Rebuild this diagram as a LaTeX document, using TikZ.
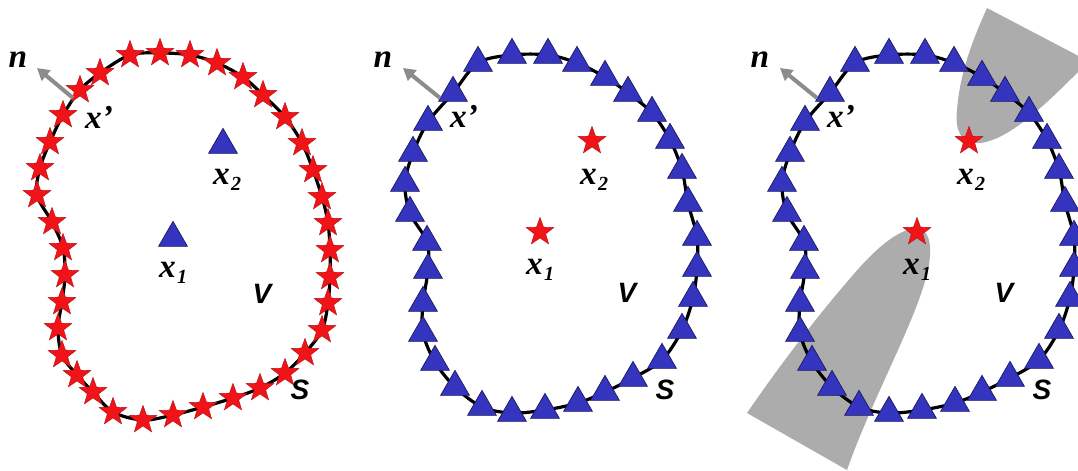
\documentclass[tikz,border=0pt]{standalone}
\usepackage{fontspec}
\setmainfont{Liberation Serif}
\newfontfamily\sansV{Liberation Sans}
\usetikzlibrary{shapes.geometric,arrows.meta}

\definecolor{triblue}{RGB}{52,52,190}
\definecolor{tribord}{RGB}{25,25,95}
\definecolor{starred}{RGB}{240,20,25}
\definecolor{shade}{RGB}{172,172,172}
\definecolor{arrowgrey}{RGB}{140,140,140}

\newcommand\lowsub[1]{\kern1pt\raisebox{-5pt}{\fontsize{15}{15}\selectfont #1}}

\tikzset{
 tri/.style={regular polygon, regular polygon sides=3, fill=triblue, draw=tribord, line width=0.5pt, minimum size=25pt, inner sep=0pt},
 starmark/.style={star, star points=5, star point ratio=2.45, fill=starred, draw=starred!75!black, line width=0.3pt, minimum size=22pt, inner sep=0pt},
 boundary/.style={line width=2.4pt, black},
 normalarrow/.style={arrowgrey, line width=3pt, -{Triangle[length=9pt,width=10pt]}},
 xlabel/.style={font=\fontsize{25}{25}\selectfont\bfseries\itshape, inner sep=0pt},
 vlabel/.style={font=\fontsize{21}{21}\selectfont\sansV\bfseries\itshape, inner sep=0pt},
 shadearea/.style={fill=shade, draw=none},
}

\newcommand\ringpanel{%
  \draw[boundary] plot[smooth cycle, tension=0.55] coordinates {(478,63) (512,55) (548,55) (577,63) (605,77) (628,93) (652,113) (670,140) (682,170) (688,203) (697,237) (697,268) (693,298) (682,330) (662,360) (633,378) (605,392) (578,403) (545,410) (512,413) (482,407) (455,387) (435,362) (423,333) (423,303) (428,270) (427,242) (410,213) (405,183) (413,153) (428,122) (453,93)};
  \foreach \p [count=\i] in {(478,63),(512,55),(548,55),(577,63),(605,77),(628,93),(652,113),(670,140),(682,170),(688,203),(697,237),(697,268),(693,298),(682,330),(662,360),(633,378),(605,392),(578,403),(545,410),(512,413),(482,407),(455,387),(435,362),(423,333),(423,303),(428,270),(427,242),(410,213),(405,183),(413,153),(428,122),(453,93)}
    \node[tri] (t\i) at \p {};
  \coordinate (n0) at (440,98);
  \coordinate (n1) at (403,68);
  \draw[normalarrow] (n0) -- (n1);
  \node[xlabel] (nl) at (383,60) {n};
  \node[xlabel] (xp) at (464,116) {x’};
  \node[starmark] (s2) at (592,141) {};
  \node[xlabel] (x2) at (594,180) {x\lowsub{2}};
  \node[starmark] (s1) at (540,232) {};
  \node[xlabel] (x1) at (540,270) {x\lowsub{1}};
  \node[vlabel] (V) at (627,293) {V};
  \node[vlabel] (S) at (665,390) {S};
}

\begin{document}
\begin{tikzpicture}[x=0.75pt, y=-0.75pt]
\useasboundingbox (0,0) rectangle (1078,471);
\clip (0,0) rectangle (1078,471);
\fill[white] (0,0) rectangle (1078,471);

% ---------- panel 1 ----------
\begin{scope}[name prefix=a-]
  \draw[boundary] plot[smooth cycle, tension=0.55] coordinates {(130,55) (160,53) (190,55) (217,63) (243,77) (263,95) (285,117) (302,143) (313,170) (322,197) (328,223) (330,250) (330,277) (328,303) (322,330) (305,353) (285,373) (260,388) (233,398) (203,407) (173,415) (143,420) (113,412) (93,392) (77,375) (62,355) (58,328) (62,302) (65,275) (63,248) (52,222) (37,195) (40,168) (50,142) (63,115) (80,90) (100,73)};
  \foreach \p [count=\i] in {(130,55),(160,53),(190,55),(217,63),(243,77),(263,95),(285,117),(302,143),(313,170),(322,197),(328,223),(330,250),(330,277),(328,303),(322,330),(305,353),(285,373),(260,388),(233,398),(203,407),(173,415),(143,420),(113,412),(93,392),(77,375),(62,355),(58,328),(62,302),(65,275),(63,248),(52,222),(37,195),(40,168),(50,142),(63,115),(80,90),(100,73)}
    \node[starmark] (s\i) at \p {};
  \coordinate (n0) at (73,98);
  \coordinate (n1) at (37,68);
  \draw[normalarrow] (n0) -- (n1);
  \node[xlabel] (nl) at (18,60) {n};
  \node[xlabel] (xp) at (99,117) {x’};
  \node[tri] (t2) at (223,145) {};
  \node[xlabel] (x2) at (227,180) {x\lowsub{2}};
  \node[tri] (t1) at (173,238) {};
  \node[xlabel] (x1) at (173,273) {x\lowsub{1}};
  \node[vlabel] (V) at (262,294) {V};
  \node[vlabel] (S) at (300,390) {S};
\end{scope}

% ---------- panel 2 ----------
\begin{scope}[name prefix=b-]
  \ringpanel
\end{scope}

% ---------- panel 3 ----------
\fill[shadearea] (747,413) -- (847,470) .. controls (875,390) and (928,300) .. (930,255)
   .. controls (931,235) and (925,229) .. (915,229)
   .. controls (900,229) and (880,245) .. (860,267)
   .. controls (820,312) and (780,365) .. (747,413) -- cycle;
\fill[shadearea] (987,8) -- (1090,62) -- (1078,72) .. controls (1050,100) and (1010,140) .. (980,143)
   .. controls (960,144) and (955,130) .. (957,110)
   .. controls (960,70) and (975,35) .. (987,8) -- cycle;
\begin{scope}[shift={(377,0)}, name prefix=c-]
  \ringpanel
\end{scope}
\end{tikzpicture}
\end{document}
